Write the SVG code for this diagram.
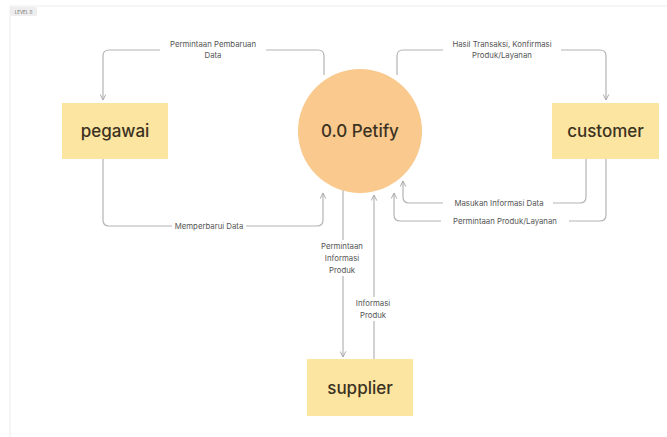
<svg xmlns="http://www.w3.org/2000/svg" width="667" height="437" viewBox="0 0 667 437">
<defs>
<style>
.lbl{font-family:Inter,"Liberation Sans",sans-serif;font-size:7.8px;fill:#555;text-anchor:middle}
.node{font-family:Inter,"Liberation Sans",sans-serif;font-size:17px;font-weight:500;fill:#3b3222;text-anchor:middle;dominant-baseline:central}
.box{fill:#fce5a0}
.edge{fill:none;stroke:#b4b4b4;stroke-width:1.2}
</style>
<marker id="ah" viewBox="0 0 10 10" refX="9" refY="5" markerWidth="7" markerHeight="7" orient="auto" markerUnits="userSpaceOnUse">
<path d="M1,1 L9,5 L1,9" fill="none" stroke="#a8a8a8" stroke-width="1.4"/>
</marker>
</defs>
<rect width="667" height="437" fill="#fff"/>
<path d="M10,437 V6 H667" fill="none" stroke="#ececec" stroke-width="1"/>
<rect x="10" y="7" width="27" height="9" rx="1.5" fill="#eeeeee"/>
<text x="23.5" y="13.5" font-family="Inter,'Liberation Sans',sans-serif" font-size="4.5" fill="#666" text-anchor="middle">LEVEL 0</text>

<g id="connectors">
<path class="edge" marker-end="url(#ah)" d="M324,75 V56 Q324,50 318,50 H109 Q103,50 103,56 V100"/>
<path class="edge" marker-end="url(#ah)" d="M397,75 V56 Q397,50 403,50 H600 Q606,50 606,56 V100"/>
<path class="edge" marker-end="url(#ah)" d="M103,159 V220 Q103,226 109,226 H317 Q323,226 323,220 V193"/>
<path class="edge" marker-end="url(#ah)" d="M586,159 V197 Q586,203 580,203 H409 Q403,203 403,197 V181"/>
<path class="edge" marker-end="url(#ah)" d="M606,159 V215 Q606,221 600,221 H400 Q394,221 394,215 V193"/>
<path class="edge" marker-end="url(#ah)" d="M343,190 V357"/>
<path class="edge" marker-end="url(#ah)" d="M374,359 V195"/>
<g>
<rect x="160" y="40" width="106" height="20" fill="#fff"/>
<text class="lbl" x="213" y="46.5">Permintaan Pembaruan</text>
<text class="lbl" x="213" y="57.5">Data</text>
</g>
<g>
<rect x="443" y="40" width="118" height="20" fill="#fff"/>
<text class="lbl" x="502" y="46.5">Hasil Transaksi, Konfirmasi</text>
<text class="lbl" x="502" y="57.5">Produk/Layanan</text>
</g>
<g>
<rect x="172" y="221" width="74" height="10" fill="#fff"/>
<text class="lbl" x="209" y="228.8">Memperbarui Data</text>
</g>
<g>
<rect x="443" y="198" width="110" height="10" fill="#fff"/>
<text class="lbl" x="499" y="205.8">Masukan Informasi Data</text>
</g>
<g>
<rect x="441" y="216" width="128" height="10" fill="#fff"/>
<text class="lbl" x="505" y="223.8">Permintaan Produk/Layanan</text>
</g>
<g>
<rect x="316" y="240" width="54" height="36" fill="#fff"/>
<text class="lbl" x="342" y="248.5">Permintaan</text>
<text class="lbl" x="342" y="260.5">Informasi</text>
<text class="lbl" x="342" y="272.5">Produk</text>
</g>
<g>
<rect x="350" y="297" width="46" height="24" fill="#fff"/>
<text class="lbl" x="373" y="305.5">Informasi</text>
<text class="lbl" x="373" y="318">Produk</text>
</g>
</g>

<g id="pegawai">
<rect class="box" x="62" y="103" width="106" height="56"/>
<text class="node" x="115" y="131">pegawai</text>
</g>
<g id="customer">
<rect class="box" x="552" y="103" width="107" height="56"/>
<text class="node" x="605.5" y="131">customer</text>
</g>
<g id="petify">
<circle cx="360" cy="131" r="62" fill="#f9c98d"/>
<text class="node" x="360" y="131">0.0 Petify</text>
</g>
<g id="supplier">
<rect class="box" x="307" y="359" width="106" height="57"/>
<text class="node" x="360" y="387.5">supplier</text>
</g>
</svg>
